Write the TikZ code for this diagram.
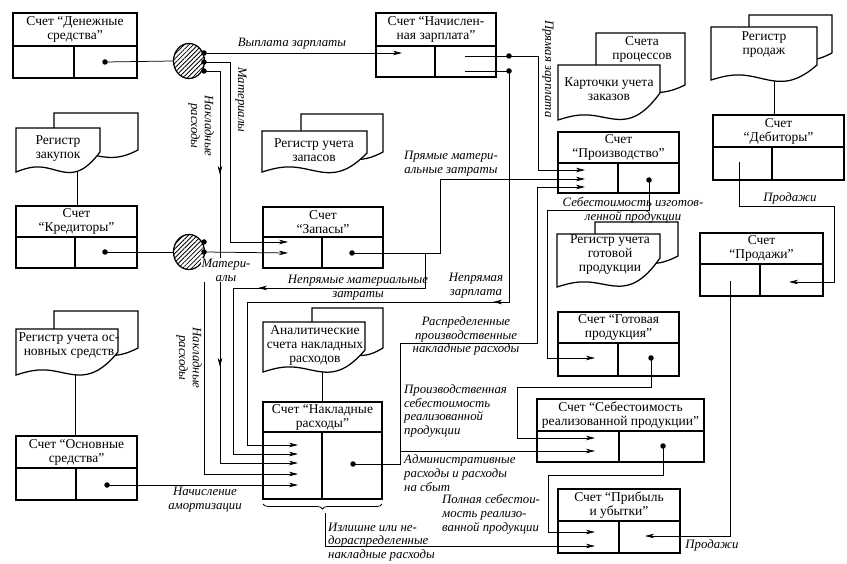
\documentclass[tikz,border=0pt]{standalone}
\usepackage{fontspec}
\setmainfont{Liberation Serif}
\usetikzlibrary{arrows.meta,patterns.meta,decorations.pathreplacing,shapes.geometric}
\newcommand\acct[8]{%
  \draw[bline] (#2,#3) rectangle (#4,#5);
  \draw[bline] (#2,#6) -- (#4,#6) (#7,#6) -- (#7,#5);
  \node[hdr] (#1) at ({(#2+#4)/2},{(#3+#6)/2}) {#8};
}
% x1, y1, x2, y(left bottom), rise to right bottom, wave amplitude
\newcommand\docpage[6]{%
  \filldraw[bline,fill=white] (#1,#2) -- (#3,#2) -- (#3,{#4-#5})
    -- plot[variable=\s,domain=1:0,samples=41,smooth] ({#1+\s*(#3-#1)},{#4-#6*sin(360*\s)-#5*\s*\s*\s*\s}) -- cycle;
}
\begin{document}
\begin{tikzpicture}[x=1pt,y=-1pt,
  bline/.style={line width=1.25pt},
  con/.style={line width=0.75pt},
  arr/.style={con,-{Stealth[length=9pt,width=4.5pt,inset=2.5pt]}},
  hdr/.style={font=\fontsize{13.5}{14}\selectfont,align=center,inner sep=0pt},
  lab/.style={font=\fontsize{12.8}{13.8}\selectfont\itshape,inner sep=0pt},
  jdot/.style={circle,fill=black,inner sep=0pt,minimum size=5.5pt},
  hatch/.style={draw,bline,ellipse,inner sep=0pt,minimum width=31pt,minimum height=35pt,
     pattern={Lines[angle=45,distance=3.2pt,line width=0.8pt]}},
]
\useasboundingbox (0,0) rectangle (847,564);
\fill[white] (0,0) rectangle (847,564);

% ---- hatched junctions
\node[hatch] (e1) at (189,61) {};
\node[hatch] (e2) at (189,252) {};

% ---- endpoints
\coordinate (dd-o) at (105,62);
\coordinate (kr-o) at (105,252);
\coordinate (os-o) at (107,485);
\coordinate (zp-o) at (352,253);
\coordinate (e1a) at (204,53);
\coordinate (e1b) at (204,62);
\coordinate (e1c) at (204,71);
\coordinate (e2a) at (204,242);
\coordinate (e2b) at (204,252);
\coordinate (e2c) at (204,261);
\coordinate (nz-s1) at (465,56);
\coordinate (nz-s2) at (465,71);
\coordinate (nz-o1) at (509,56);
\coordinate (nz-o2) at (509,71);
\coordinate (nr-o) at (353,464);
\coordinate (pr-o) at (649,180);
\coordinate (gp-o) at (651,358);
\coordinate (sb-o) at (663,446);
\coordinate (deb-o) at (739,162);
\coordinate (prod-o) at (730,281);
\coordinate (nz-i) at (402,53);
\coordinate (zp-i1) at (288,242);
\coordinate (zp-i2) at (288,253);
\coordinate (nr-i1) at (298,445);
\coordinate (nr-i2) at (298,454);
\coordinate (nr-i3) at (298,463);
\coordinate (nr-i4) at (298,474);
\coordinate (nr-i5) at (298,485);
\coordinate (pr-i1) at (585,170);
\coordinate (pr-i2) at (585,179);
\coordinate (pr-i3) at (585,187);
\coordinate (gp-i) at (595,358);
\coordinate (sb-i1) at (595,438);
\coordinate (sb-i2) at (595,451);
\coordinate (pu-i1) at (595,532);
\coordinate (pu-i2) at (595,546);
\coordinate (pu-i3) at (645,536);
\coordinate (prod-i) at (789,282);

% ---- connectors
\draw[con] (dd-o) -- (e1.west);
\draw[con] (kr-o) -- (e2.west);
\draw[arr] (e1a) -- (nz-i);
\draw[arr] (e1b) -- (230,62) -- (230,242) -- (zp-i1);
\draw[arr] (e1c) -- (220,71) -- (220,463) -- (nr-i3);
\draw[arr] (220,160) -- (220,175);
\draw[arr] (220,352) -- (220,367);
\draw[arr] (e2b) -- (zp-i2);
\draw[arr] (e2c) -- (204,474) -- (nr-i4);
\draw[arr] (os-o) -- (nr-i5);
\draw[arr] (zp-o) -- (440,253) -- (440,179) -- (pr-i2);
\draw[arr] (425,253) -- (425,288) -- (233,288) -- (233,454) -- (nr-i2);
\draw[arr] (272,288) -- (258,288);
\draw[con] (nz-s1) -- (nz-o1);
\draw[con] (nz-s2) -- (nz-o2);
\draw[arr] (nz-o1) -- (538,56) -- (538,170) -- (pr-i1);
\draw[arr] (nz-o2) -- (509,302) -- (247,302) -- (247,445) -- (nr-i1);
\draw[arr] (507,302) -- (493,302);
\draw[arr] (nr-o) -- (400,464) -- (400,343) -- (537,343) -- (537,187) -- (pr-i3);
\draw[arr] (400,451) -- (sb-i2);
\draw[arr] (pr-o) -- (649,210) -- (547,210) -- (547,358) -- (gp-i);
\draw[arr] (gp-o) -- (651,387) -- (517,387) -- (517,438) -- (sb-i1);
\draw[arr] (sb-o) -- (663,475) -- (548,475) -- (548,532) -- (pu-i1);
\draw[con,decorate,decoration={brace,mirror,amplitude=5pt}] (263,504) -- (382,504);
\draw[arr] (325,513) -- (325,546) -- (pu-i2);
\draw[arr] (deb-o) -- (739,206) -- (834,206) -- (834,282) -- (prod-i);
\draw[arr] (prod-o) -- (730,536) -- (pu-i3);
% document links
\draw[con] (77,150) -- (77,206);
\draw[con] (75,355) -- (75,436);
\draw[con] (774,60) -- (774,115);
\draw[con] (322,355) -- (322,402);

% ---- accounts
\acct{dd}{13}{13}{137}{78}{46}{74}{Счет “Денежные\\средства”}
\acct{nz}{376}{13}{496}{77}{46}{435}{Счет “Начислен-\\ная зарплата”}
\acct{kr}{16}{206}{137}{268}{237}{75}{Счет\\“Кредиторы”}
\acct{zp}{263}{207}{383}{268}{237}{322}{Счет\\“Запасы”}
\acct{pr}{558}{132}{679}{193}{163}{618}{Счет\\“Производство”}
\acct{deb}{713}{115}{844}{180}{147}{772}{Счет\\“Дебиторы”}
\acct{prod}{700}{233}{823}{296}{264}{760}{Счет\\“Продажи”}
\acct{gp}{558}{312}{679}{376}{343}{618}{Счет “Готовая\\продукция”}
\acct{sb}{537}{399}{704}{462}{431}{619}{Счет “Себестоимость\\реализованной продукции”}
\acct{os}{16}{436}{137}{500}{468}{76}{Счет “Основные\\средства”}
\acct{nr}{263}{402}{382}{499}{432}{322}{Счет “Накладные\\расходы”}
\acct{pu}{558}{489}{680}{553}{521}{619}{Счет “Прибыль\\и убытки”}

% ---- documents
\docpage{54}{113}{138}{156}{6}{3}
\docpage{16}{128}{100}{172}{20}{5}
\node[hdr] (rzak) at (58,149) {Регистр\\закупок};
\docpage{301}{114}{383}{158}{6}{3}
\docpage{262}{131}{367}{172}{19}{5}
\node[hdr] (ruz) at (314,150) {Регистр учета\\запасов};
\docpage{596}{33}{685}{91}{6}{3}
\node[hdr] (spr) at (642,49) {Счета\\процессов};
\docpage{558}{65}{660}{120}{27}{5}
\node[hdr] (kuz) at (609,89) {Карточки учета\\заказов};
\docpage{749}{15}{832}{59}{6}{3}
\docpage{711}{27}{817}{80}{15}{5}
\node[hdr] (rprod) at (764,45) {Регистр\\продаж};
\docpage{595}{222}{678}{262}{6}{3}
\docpage{557}{234}{660}{287}{29}{5}
\node[hdr] (rgp) at (610,255) {Регистр учета\\готовой\\продукции};
\docpage{54}{311}{138}{354}{6}{3}
\docpage{16}{329}{118}{375}{23}{5}
\node[hdr] (ros) at (69,346) {Регистр учета ос-\\новных средств};
\docpage{312}{308}{383}{354}{6}{3}
\docpage{263}{322}{365}{372}{22}{5}
\node[hdr] (anr) at (315,345) {Аналитические\\счета накладных\\расходов};

% ---- dots
\foreach \p in {dd-o,kr-o,os-o,zp-o,nz-o1,nz-o2,nr-o,pr-o,gp-o,sb-o,e1a,e1b,e1c,e2a,e2b,e2c}
  \node[jdot] (d-\p) at (\p) {};

% ---- labels
\node[lab] (l-vz) at (292,44) {Выплата зарплаты};
\node[lab,rotate=-90] (l-m1) at (241,100) {Материалы};
\node[lab,rotate=-90,align=center] (l-n1) at (201,126) {Накладные\\расходы};
\node[lab,align=center,fill=white,inner sep=1pt] (l-m2) at (226,270) {Матери-\\алы};
\node[lab,rotate=-90,align=center] (l-n2) at (189,358) {Накладные\\расходы};
\node[lab,align=center] (l-am) at (205,500) {Начисление\\амортизации};
\node[lab,align=center] (l-pmz) at (451,164) {Прямые матери-\\альные затраты};
\node[lab,align=center] (l-nmz) at (358,288) {Непрямые материальные\\затраты};
\node[lab,align=center] (l-nzp) at (476,286) {Непрямая\\зарплата};
\node[lab,rotate=-90] (l-pz) at (548,69) {Прямая зарплата};
\node[lab,align=center] (l-rpn) at (466,336) {Распределенные\\производственные\\накладные расходы};
\node[lab,align=center] (l-siz) at (633,210) {Себестоимость изготов-\\ленной продукции};
\node[lab,align=left,anchor=west] (l-psr) at (404,411) {Производственная\\себестоимость\\реализованной\\продукции};
\node[lab,align=left,anchor=west] (l-adm) at (404,473) {Административные\\расходы и расходы\\на сбыт};
\node[lab,align=left,anchor=west] (l-pss) at (442,514) {Полная себестои-\\мость реализо-\\ванной продукции};
\node[lab,align=left,anchor=west] (l-izl) at (328,542) {Излишне или не-\\дораспределенные\\накладные расходы};
\node[lab] (l-pr1) at (790,198) {Продажи};
\node[lab] (l-pr2) at (712,545) {Продажи};
\end{tikzpicture}
\end{document}
